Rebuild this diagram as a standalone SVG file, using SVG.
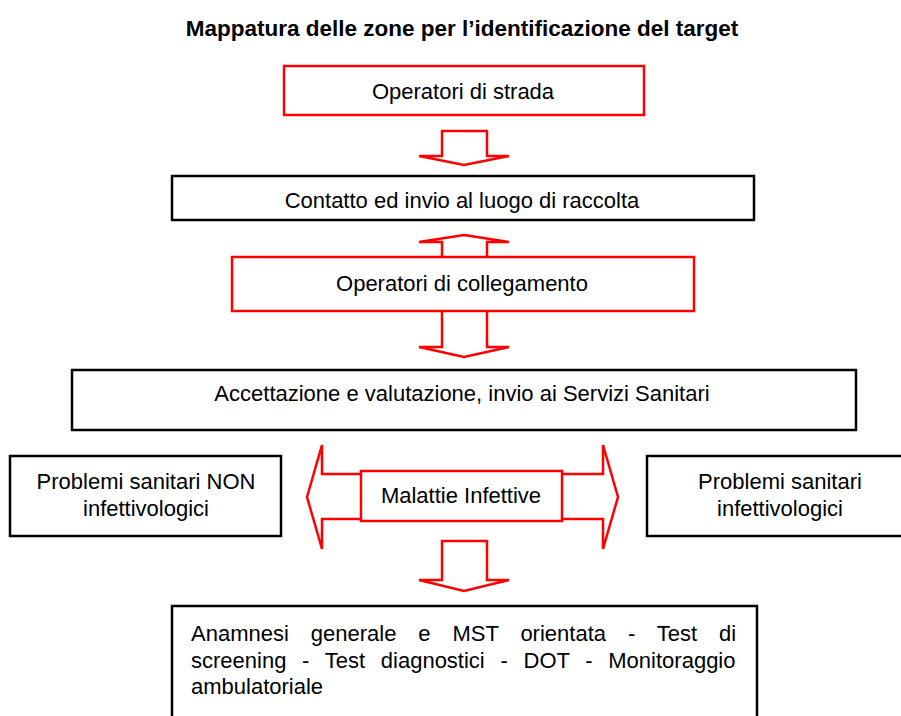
<svg xmlns="http://www.w3.org/2000/svg" width="901" height="716" viewBox="0 0 901 716">
<style>
.bg{fill:#fff}
.rbox{fill:#fff;stroke:#ff0000;stroke-width:2.5}
.kbox{fill:#fff;stroke:#000;stroke-width:2.5}
.arr{fill:#fff;stroke:#ff0000;stroke-width:2.5;stroke-linejoin:miter}
text{font-family:"Liberation Sans",Arial,sans-serif;font-size:22px;fill:#000}
.c{text-anchor:middle}
.t{font-weight:bold;font-size:22.5px}
</style>
<rect class="bg" x="0" y="0" width="901" height="716"/>
<text class="c t" x="462" y="36">Mappatura delle zone per l’identificazione del target</text>
<g id="connectors">
<polygon class="arr" points="442,131 487,131 487,156 509,156 464,165 419,156 442,156"/>
<polygon class="arr" points="464,235 509,242 487,242 487,347 509,347 464,357 419,347 442,347 442,242 419,242"/>
<polygon class="arr" points="307,497 322,445 322,474 603,474 603,445 618,497 603,549 603,519 322,519 322,549"/>
<polygon class="arr" points="442,541 487,541 487,580 509,580 464,591 419,580 442,580"/>
</g>
<g id="n1"><rect class="rbox" x="284" y="66" width="360" height="49"/><text class="c" x="463" y="99">Operatori di strada</text></g>
<g id="n2"><rect class="kbox" x="172" y="176" width="582" height="44"/><text class="c" x="462" y="208">Contatto ed invio al luogo di raccolta</text></g>
<g id="n3"><rect class="rbox" x="232" y="257" width="462" height="54"/><text class="c" x="462" y="291">Operatori di collegamento</text></g>
<g id="n4"><rect class="kbox" x="72" y="370" width="784" height="60"/><text class="c" x="462" y="401">Accettazione e valutazione, invio ai Servizi Sanitari</text></g>
<g id="n5"><rect class="kbox" x="10" y="456" width="271" height="80"/><text class="c" x="146" y="489">Problemi sanitari NON</text><text class="c" x="146" y="516">infettivologici</text></g>
<g id="n6"><rect class="rbox" x="361" y="471" width="201" height="50"/><text class="c" x="461" y="503">Malattie Infettive</text></g>
<g id="n7"><rect class="kbox" x="647" y="456" width="268" height="80"/><text class="c" x="780" y="489">Problemi sanitari</text><text class="c" x="780" y="516">infettivologici</text></g>
<g id="n8"><rect class="kbox" x="172" y="606" width="585" height="130"/>
<text x="191" y="641" style="word-spacing:15.8px">Anamnesi generale e MST orientata - Test di</text>
<text x="191" y="668" style="word-spacing:9.6px">screening - Test diagnostici - DOT - Monitoraggio</text>
<text x="191" y="694">ambulatoriale</text></g>
</svg>
